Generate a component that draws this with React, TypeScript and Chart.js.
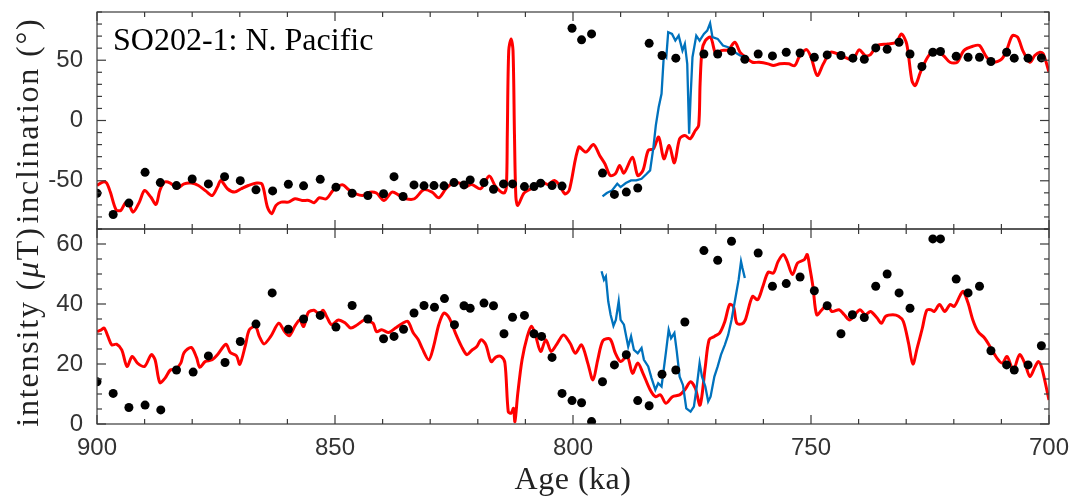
import React, { useEffect, useRef } from "react";
import { Chart, registerables } from "chart.js";

Chart.register(...registerables);

// ---- Inclination panel (degrees) ----
const ageInclModel = [
  900.0, 898.8, 898.0, 897.2, 896.0, 895.0, 894.0, 893.3, 892.4, 891.1, 890.0, 888.7, 887.6, 886.8,
  885.8, 884.6, 883.1, 881.7, 880.2, 878.7, 877.1, 875.8, 874.7, 874.0, 872.6, 871.1, 869.7, 868.2,
  866.4, 865.3, 864.2, 863.3, 862.4, 861.3, 859.8, 858.4, 856.9, 855.5, 854.4, 853.3, 851.8, 850.4,
  848.5, 847.1, 845.6, 844.2, 842.7, 841.3, 839.7, 838.0, 836.5, 835.1, 833.3, 831.4, 829.6, 828.2,
  826.7, 825.3, 823.8, 822.7, 821.3, 819.4, 817.6, 816.2, 814.5, 814.0, 813.8, 813.5, 813.0, 812.6,
  812.3, 812.0, 811.6, 810.3, 809.0, 807.5, 806.4, 805.3, 803.9, 802.8, 801.7, 800.8, 798.8, 797.3,
  795.7, 794.4, 793.3, 792.2, 791.1, 790.2, 789.3, 787.5, 786.4, 785.3, 784.2, 783.1, 782.0, 780.9,
  779.8, 778.7, 777.6, 776.5, 775.4, 774.3, 773.6, 773.3, 772.9, 772.2, 771.1, 770.0, 768.9, 767.4,
  766.0, 764.9, 763.8, 762.3, 760.9, 759.0, 757.9, 756.5, 754.7, 753.4, 752.5, 751.0, 750.0, 748.7,
  747.4, 745.9, 744.1, 742.6, 741.2, 739.9, 738.6, 737.5, 736.1, 733.9, 732.1, 731.0, 729.9, 728.8,
  728.1, 727.0, 725.5, 724.1, 722.2, 720.8, 719.3, 717.9, 716.0, 714.6, 713.1, 711.7, 709.9, 708.8,
  707.7, 706.6, 705.5, 704.0, 703.0, 701.9, 701.2, 700.0,
];
const inclModel = [
  -53.9, -51.1, -51.7, -59.4, -74.0, -74.6, -68.2, -69.6, -76.0, -67.7, -58.0, -63.5, -69.6, -58.0,
  -51.1, -51.9, -56.1, -52.5, -51.9, -53.9, -58.6, -62.2, -55.2, -49.7, -56.6, -59.4, -56.6, -53.9,
  -51.9, -53.0, -71.8, -77.3, -70.4, -67.7, -67.7, -64.9, -66.3, -66.3, -68.2, -64.1, -64.9, -58.0,
  -53.3, -57.5, -60.8, -62.2, -59.4, -60.2, -66.3, -59.4, -62.2, -64.9, -64.9, -57.5, -59.4, -64.1,
  -56.6, -51.9, -51.9, -55.2, -53.0, -56.6, -46.1, -55.2, -60.2, -55.2, -11.0, 58.0, 67.7, 58.0,
  -11.0, -63.5, -70.4, -60.2, -57.0, -52.5, -51.1, -53.0, -49.7, -53.9, -60.8, -58.0, -22.1, -26.2,
  -19.9, -29.0, -35.9, -45.6, -44.2, -37.3, -43.6, -30.4, -45.6, -41.4, -24.9, -23.5, -13.8, -31.8,
  -20.7, -35.1, -15.2, -12.4, -15.2, -8.3, -4.1, 30.4, 58.0, 66.3, 69.1, 55.2, 58.0, 58.6,
  64.9, 56.6, 52.5, 48.3, 48.3, 47.0, 45.6, 47.0, 47.0, 45.6, 52.5, 58.8, 52.5, 37.3,
  47.0, 56.6, 54.7, 51.9, 50.3, 58.6, 53.9, 54.7, 62.2, 63.5, 64.9, 71.8, 63.5, 33.1,
  29.0, 40.1, 52.5, 58.0, 53.9, 48.3, 48.3, 58.0, 61.6, 62.2, 52.5, 48.3, 51.1, 59.4,
  70.4, 69.1, 58.0, 48.3, 53.9, 56.6, 55.2, 40.1,
];

const ageInclRecord = [
  793.8, 792.9, 791.8, 790.7, 790.0, 788.9, 787.8, 786.7, 785.6, 784.5, 783.8, 783.1, 782.6, 782.0,
  781.4, 780.9, 780.4, 780.0, 779.2, 778.5, 777.8, 777.0, 776.5, 776.0, 775.6, 775.3, 774.9, 774.1,
  773.4, 772.5, 771.8, 771.2, 770.7, 769.6, 768.5, 767.4, 766.0, 764.9, 763.9,
];
const inclRecord = [
  -63.0, -60.2, -58.0, -52.5, -55.2, -51.9, -49.7, -49.7, -48.3, -44.2, -41.4, -22.1, -4.1, 11.0,
  22.1, 55.2, 52.5, 73.2, 71.8, 66.3, 70.4, 58.0, 63.5, 47.0, -11.0, 19.3, 52.5, 70.4,
  66.3, 71.8, 74.6, 80.7, 69.1, 67.7, 62.2, 60.8, 56.6, 53.9, 52.5,
];

const ageInclSites = [
  900.0, 896.6, 893.3, 889.9, 886.7, 883.3, 880.0, 876.6, 873.2, 869.9, 866.6, 863.1, 859.8, 856.6,
  853.1, 849.8, 846.4, 843.1, 839.8, 837.6, 835.7, 833.4, 831.3, 829.2, 827.1, 825.0, 822.9, 821.6,
  818.7, 816.7, 814.6, 812.7, 810.2, 808.2, 806.8, 804.4, 802.3, 800.2, 798.2, 796.1, 793.8, 791.3,
  788.8, 786.4, 784.0, 781.3, 778.4, 772.5, 769.6, 766.7, 763.9, 761.1, 758.1, 755.2, 752.3, 749.3,
  746.6, 743.7, 741.2, 738.8, 736.4, 734.0, 731.5, 729.2, 726.7, 724.4, 722.8, 719.5, 717.0, 714.6,
  712.2, 708.9, 707.3, 704.4, 701.6,
];
const inclSites = [
  -60.3, -78.0, -68.5, -43.0, -51.5, -54.0, -48.5, -52.6, -46.6, -49.9, -57.5, -58.4, -52.9, -54.2,
  -48.8, -55.3, -60.3, -62.2, -60.8, -46.6, -63.0, -53.4, -54.2, -54.0, -54.2, -51.5, -53.4, -49.3,
  -51.5, -57.0, -52.6, -52.6, -54.8, -54.8, -52.0, -54.0, -54.4, 76.5, 66.9, 71.8, -43.6, -61.3,
  -59.4, -56.0, 64.0, 53.9, 51.7, 55.2, 55.2, 57.5, 50.8, 55.2, 53.6, 56.6, 56.0, 52.5,
  54.4, 53.9, 51.7, 50.8, 60.2, 59.1, 64.9, 55.2, 44.8, 56.6, 57.2, 53.3, 52.5, 52.5,
  48.9, 56.6, 51.7, 51.7, 51.9,
];

// ---- Intensity panel (microtesla) ----
const ageIntModel = [
  900.0, 899.1, 898.5, 897.7, 896.9, 895.9, 894.8, 893.7, 892.6, 891.5, 890.0, 888.6, 887.8, 886.8,
  885.7, 884.6, 883.5, 882.4, 881.7, 880.2, 879.1, 878.4, 877.3, 875.8, 874.7, 872.9, 872.0, 870.7,
  870.0, 868.8, 868.0, 866.7, 865.9, 864.9, 863.5, 861.8, 860.6, 859.6, 858.4, 857.4, 856.6, 855.6,
  854.4, 853.3, 852.5, 851.6, 850.7, 849.3, 847.8, 846.7, 845.3, 843.8, 843.1, 842.0, 841.3, 840.2,
  838.7, 837.3, 835.8, 834.7, 833.6, 832.5, 831.7, 830.3, 829.3, 828.2, 827.1, 826.0, 824.7, 823.4,
  822.3, 821.3, 820.2, 819.3, 818.3, 817.2, 816.2, 815.1, 814.3, 813.6, 813.0, 812.5, 812.2, 811.6,
  810.7, 809.6, 808.7, 807.9, 806.8, 805.7, 804.6, 803.5, 802.0, 800.6, 799.5, 798.2, 796.9, 795.8,
  794.8, 793.7, 792.2, 791.1, 790.0, 788.6, 787.5, 786.4, 785.3, 783.8, 782.7, 781.6, 780.5, 779.1,
  777.6, 776.5, 775.3, 774.3, 773.3, 772.2, 771.4, 770.3, 769.2, 768.1, 767.1, 766.3, 765.6, 764.5,
  763.8, 762.3, 761.2, 760.1, 759.0, 757.9, 756.9, 755.8, 755.0, 753.9, 752.8, 751.4, 750.8, 750.3,
  749.6, 748.8, 747.7, 746.6, 745.6, 744.1, 743.0, 741.9, 740.8, 739.7, 738.6, 737.5, 736.1, 735.2,
  734.3, 732.8, 731.6, 730.6, 729.5, 728.6, 727.7, 726.6, 725.7, 724.8, 724.1, 723.0, 721.9, 720.8,
  719.9, 718.6, 718.0, 717.0, 716.0, 714.9, 713.5, 712.4, 710.9, 709.8, 708.8, 707.5, 706.2, 705.1,
  704.0, 702.9, 702.2, 701.5, 700.0,
];
const intModel = [
  30.8, 31.4, 32.0, 29.2, 26.4, 26.6, 24.7, 19.2, 22.5, 20.3, 19.2, 23.1, 21.4, 13.8,
  15.3, 18.0, 18.3, 20.3, 23.8, 25.5, 22.2, 18.9, 20.8, 21.4, 23.1, 26.6, 23.8, 22.7,
  19.9, 26.4, 31.4, 32.5, 29.2, 26.7, 29.2, 33.6, 30.8, 29.4, 32.7, 34.7, 32.5, 37.2,
  37.9, 36.6, 37.9, 35.3, 33.1, 34.7, 33.6, 32.0, 33.1, 34.7, 34.2, 33.6, 30.8, 31.4,
  30.5, 32.0, 33.6, 34.2, 30.5, 28.1, 25.3, 21.4, 25.8, 33.1, 37.0, 35.3, 30.3, 25.8,
  23.1, 24.5, 25.8, 28.1, 26.4, 20.8, 22.3, 22.5, 20.3, 4.1, 3.6, 5.2, 0.8, 10.2,
  21.4, 29.2, 32.6, 29.7, 24.2, 28.1, 24.2, 26.4, 29.7, 26.9, 23.6, 26.4, 20.3, 14.7,
  21.4, 27.8, 28.3, 23.6, 20.8, 22.5, 16.9, 20.3, 16.9, 11.4, 9.1, 9.7, 6.9, 9.1,
  9.7, 11.4, 14.1, 11.9, 6.3, 19.2, 28.1, 29.2, 30.3, 34.2, 39.8, 39.2, 33.6, 33.4,
  34.7, 42.5, 41.4, 45.9, 50.6, 50.3, 54.2, 56.5, 54.2, 49.8, 53.7, 54.8, 56.5, 52.6,
  45.9, 36.4, 38.1, 39.8, 37.5, 38.1, 36.4, 34.7, 36.4, 38.1, 36.4, 37.5, 35.3, 33.6,
  35.9, 36.4, 35.9, 34.2, 26.9, 20.0, 25.3, 32.0, 37.9, 38.1, 37.5, 39.8, 37.5, 39.8,
  39.2, 43.1, 44.2, 40.3, 34.7, 30.8, 28.6, 25.8, 21.9, 20.3, 22.5, 18.0, 23.1, 20.3,
  15.8, 19.2, 20.8, 18.6, 8.0,
];

const ageIntRecord = [
  794.0, 793.5, 793.1, 792.6, 792.1, 791.5, 791.0, 790.4, 790.0, 789.3, 788.4, 787.8, 787.2, 786.4,
  785.6, 785.1, 784.2, 783.5, 782.7, 782.1, 781.4, 780.5, 779.9, 779.4, 778.7, 778.2, 777.6, 776.9,
  776.2, 775.3, 774.6, 774.0, 773.4, 772.9, 772.2, 771.6, 771.1, 770.3, 769.6, 768.9, 768.1, 767.4,
  766.7, 766.0, 765.2, 764.7, 764.4, 763.9,
];
const intRecord = [
  50.9, 48.1, 49.2, 40.9, 36.4, 32.7, 34.7, 40.9, 34.7, 33.1, 25.8, 29.2, 24.7, 23.6,
  25.3, 21.4, 19.2, 15.3, 11.4, 13.6, 12.5, 23.6, 31.4, 28.6, 30.3, 24.2, 15.8, 13.0,
  5.2, 4.1, 5.8, 12.5, 20.3, 15.8, 12.5, 7.5, 9.1, 15.8, 19.2, 23.1, 26.4, 29.7,
  34.7, 40.9, 48.1, 54.2, 52.0, 48.7,
];

const ageIntSites = [
  900.0, 896.6, 893.3, 889.9, 886.6, 883.3, 879.8, 876.6, 873.1, 869.9, 866.6, 863.2, 859.8, 856.6,
  853.1, 849.8, 846.4, 843.1, 839.8, 837.6, 835.6, 833.4, 831.3, 829.1, 827.0, 824.9, 822.9, 821.6,
  818.7, 816.7, 814.5, 812.7, 810.2, 808.2, 806.6, 804.4, 802.3, 800.2, 798.2, 796.1, 793.8, 791.3,
  788.8, 786.4, 784.0, 781.3, 778.4, 776.5, 772.5, 769.6, 766.7, 761.1, 758.1, 755.2, 752.3, 749.3,
  746.6, 743.7, 741.3, 738.8, 736.4, 734.0, 731.5, 729.2, 724.4, 722.8, 719.5, 717.0, 714.6, 712.2,
  708.9, 707.3, 704.4, 701.6,
];
const intSites = [
  14.1, 10.2, 5.5, 6.3, 4.7, 18.0, 17.3, 22.7, 20.5, 27.5, 33.3, 43.7, 31.6, 35.0,
  36.2, 32.3, 39.5, 35.0, 28.4, 29.2, 31.6, 37.0, 39.5, 38.9, 41.8, 33.1, 39.4, 38.6,
  40.3, 39.4, 30.1, 35.6, 36.2, 30.1, 29.2, 22.2, 10.2, 7.8, 7.1, 0.8, 14.1, 19.7,
  23.1, 7.8, 6.1, 16.6, 18.0, 34.0, 57.8, 54.6, 60.9, 57.0, 45.9, 46.8, 49.0, 44.4,
  39.4, 30.1, 36.4, 35.5, 45.9, 50.0, 43.7, 38.6, 61.7, 61.7, 48.3, 43.7, 45.9, 24.4,
  19.7, 18.0, 19.7, 26.1,
];

// ---- Axes ----
const ageMin = 700;
const ageMax = 900;
const ageTickLabels = [900, 850, 800, 750, 700];
const inclRange = [-90, 90];
const inclTickLabels = [-50, 0, 50];
const intRange = [0, 65];
const intTickLabels = [0, 20, 40, 60];

const panelTitle = "SO202-1: N. Pacific";
const xTitle = "Age (ka)";

const RED = "#ff0000";
const BLUE = "#0072bd";
const AXIS = "#3a3a3a";
const TICK_TEXT = "#333333";
const SERIF = "'Liberation Serif', 'Times New Roman', serif";
const SANS = "'Liberation Sans', Arial, sans-serif";

const toPoints = (xs: number[], ys: number[]) => xs.map((x, i) => ({ x, y: ys[i] }));

// Boxes, inward ticks and the serif labels around the two panels.
const framePlugin = {
  id: "panelFrame",
  afterDraw(chart: any) {
    const ctx: any = chart.ctx;
    const xs = chart.scales.x;
    const { left, right } = chart.chartArea;
    const panels = [
      { s: chart.scales.yInc, minor: 10, major: 50, range: inclRange },
      { s: chart.scales.yInt, minor: 5, major: 20, range: intRange },
    ];
    const seg = (x1: number, y1: number, x2: number, y2: number) => {
      ctx.beginPath();
      ctx.moveTo(x1, y1);
      ctx.lineTo(x2, y2);
      ctx.stroke();
    };
    ctx.save();
    ctx.strokeStyle = AXIS;
    ctx.lineWidth = 1.2;
    for (const p of panels) {
      const top = p.s.top;
      const bottom = p.s.bottom;
      for (let v = ageMin; v <= ageMax; v += 10) {
        const px = xs.getPixelForValue(v);
        const len = v % 50 === 0 ? 9 : 5;
        seg(px, top, px, top + len);
        seg(px, bottom, px, bottom - len);
      }
      const start = Math.ceil(p.range[0] / p.minor) * p.minor;
      for (let v = start; v <= p.range[1]; v += p.minor) {
        const py = p.s.getPixelForValue(v);
        const len = v % p.major === 0 ? 9 : 5;
        seg(left, py, left + len, py);
        seg(right, py, right - len, py);
      }
      ctx.strokeRect(left, top, right - left, bottom - top);
    }

    ctx.fillStyle = "#000";
    ctx.textBaseline = "alphabetic";
    ctx.textAlign = "left";
    ctx.font = `32px ${SERIF}`;
    ctx.fillText(panelTitle, left + 16, 50);

    ctx.textAlign = "center";
    ctx.fillStyle = "#222";
    ctx.font = `32px ${SERIF}`;
    ctx.letterSpacing = "0.5px";
    ctx.fillText(xTitle, (left + right) / 2, 489);

    const vertical = (cy: number, parts: { t: string; italic?: boolean }[]) => {
      ctx.save();
      ctx.translate(38, cy);
      ctx.rotate(-Math.PI / 2);
      ctx.textAlign = "left";
      ctx.letterSpacing = "1.8px";
      const fonts = parts.map((p) => `${p.italic ? "italic " : ""}32px ${SERIF}`);
      let total = 0;
      parts.forEach((p, i) => {
        ctx.font = fonts[i];
        total += ctx.measureText(p.t).width;
      });
      let x = -total / 2;
      parts.forEach((p, i) => {
        ctx.font = fonts[i];
        ctx.fillText(p.t, x, 0);
        x += ctx.measureText(p.t).width;
      });
      ctx.restore();
    };
    const inc = chart.scales.yInc;
    const int = chart.scales.yInt;
    vertical((inc.top + inc.bottom) / 2, [{ t: "inclination (°)" }]);
    vertical((int.top + int.bottom) / 2, [{ t: "intensity (" }, { t: "μ", italic: true }, { t: "T)" }]);
    ctx.restore();
  },
};

// Fixed axis band sizes, so the plot box is set by layout.padding alone.
const fixVertical = (s: any) => {
  s.width = 97;
  s.paddingTop = 0;
  s.paddingBottom = 0;
};
const fixHorizontal = (s: any) => {
  s.height = 75;
  s.paddingLeft = 0;
  s.paddingRight = 0;
};

export default function App() {
  const canvasRef = useRef<HTMLCanvasElement | null>(null);

  useEffect(() => {
    document.body.style.margin = "0";
    const canvas = canvasRef.current;
    if (!canvas) return;

    const chart = new Chart(canvas, {
      type: "scatter",
      data: {
        datasets: [
          {
            label: "inclination sites",
            data: toPoints(ageInclSites, inclSites),
            yAxisID: "yInc",
            backgroundColor: "#000",
            borderWidth: 0,
            pointRadius: 4.5,
            order: 0,
          },
          {
            label: "inclination record",
            data: toPoints(ageInclRecord, inclRecord),
            yAxisID: "yInc",
            showLine: true,
            borderColor: BLUE,
            borderWidth: 2.3,
            pointRadius: 0,
            tension: 0,
            order: 1,
          },
          {
            label: "inclination model",
            data: toPoints(ageInclModel, inclModel),
            yAxisID: "yInc",
            showLine: true,
            borderColor: RED,
            borderWidth: 3,
            pointRadius: 0,
            tension: 0.3,
            order: 2,
          },
          {
            label: "intensity sites",
            data: toPoints(ageIntSites, intSites),
            yAxisID: "yInt",
            backgroundColor: "#000",
            borderWidth: 0,
            pointRadius: 4.5,
            order: 0,
          },
          {
            label: "intensity record",
            data: toPoints(ageIntRecord, intRecord),
            yAxisID: "yInt",
            showLine: true,
            borderColor: BLUE,
            borderWidth: 2.3,
            pointRadius: 0,
            tension: 0,
            order: 1,
          },
          {
            label: "intensity model",
            data: toPoints(ageIntModel, intModel),
            yAxisID: "yInt",
            showLine: true,
            borderColor: RED,
            borderWidth: 3,
            pointRadius: 0,
            tension: 0.3,
            order: 2,
          },
        ],
      },
      options: {
        animation: false,
        responsive: false,
        layout: { padding: { left: 0, top: 12, right: 25, bottom: 0 } },
        plugins: { legend: { display: false }, tooltip: { enabled: false } },
        scales: {
          x: {
            type: "linear",
            min: ageMin,
            max: ageMax,
            reverse: true,
            grid: { display: false, drawTicks: false },
            border: { display: false },
            afterBuildTicks: (s: any) => {
              s.ticks = ageTickLabels.map((v) => ({ value: v }));
            },
            afterFit: fixHorizontal,
            ticks: {
              color: TICK_TEXT,
              font: { family: SANS, size: 24 },
              padding: 10,
              maxRotation: 0,
              autoSkip: false,
            },
          },
          yInt: {
            type: "linear",
            position: "left",
            stack: "panels",
            stackWeight: 195,
            min: intRange[0],
            max: intRange[1],
            grid: { display: false, drawTicks: false },
            border: { display: false },
            afterBuildTicks: (s: any) => {
              s.ticks = intTickLabels.map((v) => ({ value: v }));
            },
            afterFit: fixVertical,
            ticks: { color: TICK_TEXT, font: { family: SANS, size: 24 }, padding: 14 },
          },
          yInc: {
            type: "linear",
            position: "left",
            stack: "panels",
            stackWeight: 217,
            min: inclRange[0],
            max: inclRange[1],
            grid: { display: false, drawTicks: false },
            border: { display: false },
            afterBuildTicks: (s: any) => {
              s.ticks = inclTickLabels.map((v) => ({ value: v }));
            },
            afterFit: fixVertical,
            ticks: { color: TICK_TEXT, font: { family: SANS, size: 24 }, padding: 14 },
          },
        },
      },
      plugins: [framePlugin],
    });

    return () => chart.destroy();
  }, []);

  return (
    <div style={{ width: 1074, height: 499 }}>
      <canvas ref={canvasRef} width={1074} height={499} />
    </div>
  );
}
